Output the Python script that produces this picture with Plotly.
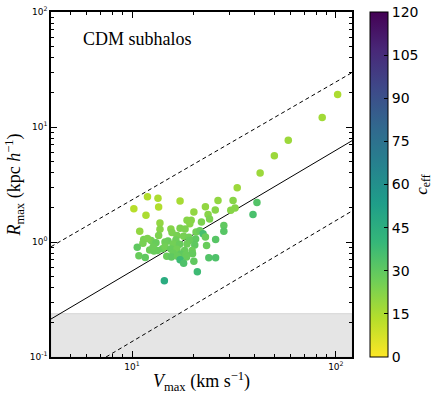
import plotly.graph_objects as go

# scatter data: V_max (km/s), R_max (kpc/h), c_eff
vmax = [102, 85.7, 58.4, 49.9, 42.5, 32.8, 11.9, 13.4, 17.2, 26.4,
        31.3, 41.0, 10.2, 13.5, 11.7, 22.9, 25.6, 20.1, 32.0, 30.5,
        39.2, 23.6, 24.0, 13.7, 18.6, 19.5, 21.9, 28.2, 28.2, 19.2,
        10.9, 13.7, 15.5, 17.2, 18.2, 15.7, 16.6, 17.9, 19.0, 20.6,
        21.5, 22.3, 22.9, 13.5, 12.4, 11.4, 11.9, 11.3, 10.6, 25.7,
        20.5, 19.1, 16.4, 15.0, 14.5, 13.1, 15.9, 17.1, 18.6, 20.3,
        23.2, 12.2, 13.3, 14.1, 14.5, 15.5, 16.6, 18.1, 19.7, 15.9,
        17.3, 18.4, 19.8, 14.8, 10.8, 11.6, 15.6, 16.7, 18.5, 23.8,
        25.7, 17.2, 17.9, 20.1, 20.9, 14.4, 12.8, 12.7]
rmax = [19.2, 12.1, 7.66, 5.63, 3.98, 2.97, 2.48, 2.40, 2.27, 2.30,
        2.29, 2.20, 1.95, 2.02, 1.71, 2.03, 1.90, 1.82, 1.98, 1.89,
        1.73, 1.73, 1.585, 1.46, 1.545, 1.545, 1.49, 1.39, 1.24, 1.44,
        1.24, 1.29, 1.30, 1.32, 1.30, 1.21, 1.14, 1.12, 1.10, 1.22,
        1.25, 1.18, 1.105, 1.14, 1.03, 1.05, 1.07, 0.975, 0.90, 1.05,
        1.06, 1.03, 1.04, 1.02, 1.00, 0.986, 0.96, 0.955, 0.96, 0.94,
        0.93, 0.85, 0.845, 0.875, 0.91, 0.87, 0.865, 0.845, 0.845, 0.80,
        0.785, 0.78, 0.79, 0.75, 0.76, 0.735, 0.74, 0.75, 0.74, 0.73,
        0.73, 0.70, 0.655, 0.68, 0.55, 0.46, 0.835, 0.91]
ceff = [15, 17, 18, 18, 18, 18, 14, 15, 16, 20,
        22, 33, 13, 14, 15, 20, 22, 20, 22, 22,
        35, 22, 24, 20, 22, 22, 24, 30, 32, 22,
        20, 22, 22, 24, 24, 24, 25, 25, 26, 26,
        28, 36, 28, 24, 26, 25, 24, 25, 30, 32,
        30, 28, 27, 28, 27, 28, 26, 28, 27, 30,
        28, 27, 28, 28, 26, 28, 26, 28, 27, 28,
        30, 28, 29, 28, 28, 30, 30, 28, 28, 33,
        34, 38, 34, 30, 38, 46, 28, 27]

# reference relations
line_v = [4, 120]
line_r = [0.214, 7.6]
upper_v = [4, 120]
upper_r = [0.91, 29.7]
lower_v = [7.45, 120]
lower_r = [0.1, 1.86]

# resolution limit band
band_top = 0.238
x_lim = [4, 120]
y_lim = [0.1, 100]

serif = "Liberation Serif"
sans = "DejaVu Sans"

fig = go.Figure()

fig.add_trace(go.Scatter(
    x=[x_lim[0], x_lim[1], x_lim[1], x_lim[0], x_lim[0]],
    y=[y_lim[0], y_lim[0], band_top, band_top, y_lim[0]],
    mode='lines', fill='toself', fillcolor='#e5e5e5',
    line=dict(color='#d6d6d6', width=1), showlegend=False, hoverinfo='skip'))

fig.add_trace(go.Scatter(x=line_v, y=line_r, mode='lines',
                         line=dict(color='black', width=1), showlegend=False))
for xv, yv in [(upper_v, upper_r), (lower_v, lower_r)]:
    fig.add_trace(go.Scatter(x=xv, y=yv, mode='lines',
                             line=dict(color='black', width=1, dash='4px,3px'),
                             showlegend=False))

fig.add_trace(go.Scatter(
    x=vmax, y=rmax, mode='markers', showlegend=False,
    marker=dict(size=7.5, color=ceff, colorscale='Viridis', reversescale=True,
                cmin=0, cmax=120, line=dict(width=0),
                colorbar=dict(
                    x=1.06, xanchor='left', y=0.5, len=1, lenmode='fraction',
                    thickness=18, xpad=0, ypad=0,
                    outlinecolor='black', outlinewidth=1,
                    tickvals=[0, 15, 30, 45, 60, 75, 90, 105, 120],
                    ticks='inside', ticklen=4, tickcolor='black',
                    tickfont=dict(family=sans, size=14, color='black'),
                    title=dict(text='<i>c</i><sub>eff</sub>', side='right',
                               font=dict(family=serif, size=17, color='black'))))))

minor_vals = [m * 10 ** k for k in range(-1, 3) for m in range(2, 10)]
axis_common = dict(
    type='log', showgrid=False, zeroline=False, automargin=False,
    showline=True, linecolor='black', linewidth=1.5, mirror='allticks',
    ticks='inside', ticklen=6, tickcolor='black',
    tickfont=dict(family=sans, size=9, color='black'),
    minor=dict(ticks='inside', ticklen=3, tickcolor='black', tickvals=minor_vals),
)

fig.update_xaxes(
    **axis_common, range=[0.60206, 2.07918],
    tickmode='array', tickvals=[10, 100],
    ticktext=['10<sup>1</sup>', '10<sup>2</sup>'],
    title=dict(text='<i>V</i><sub>max</sub> (km s<sup>−1</sup>)', standoff=4,
               font=dict(family=serif, size=18, color='black')))
fig.update_yaxes(
    **axis_common, range=[-1, 2],
    tickmode='array', tickvals=[0.1, 1, 10, 100],
    ticktext=['10<sup>-1</sup>', '10<sup>0</sup>', '10<sup>1</sup>', '10<sup>2</sup>'],
    title=dict(text='<i>R</i><sub>max</sub> (kpc <i>h</i><sup>−1</sup>)', standoff=4,
               font=dict(family=serif, size=18, color='black')))

fig.add_annotation(text='CDM subhalos', xref='paper', yref='paper',
                   x=0.1, y=0.922, xanchor='left', yanchor='middle',
                   showarrow=False, font=dict(family=serif, size=18, color='black'))

fig.update_layout(
    width=436, height=399,
    margin=dict(l=51, r=84, t=12, b=42, autoexpand=False),
    plot_bgcolor='white', paper_bgcolor='white',
)

# drop the browser's default 8px body margin so the figure fills the window
fig.write_html("out.html", config={'displayModeBar': False},
               post_script="document.body.style.margin='0';")
